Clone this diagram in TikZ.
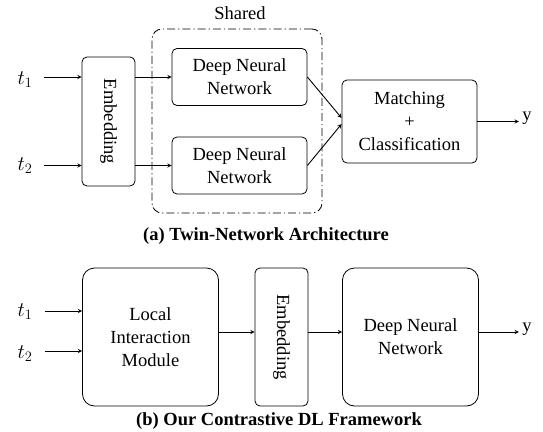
\documentclass[tikz,border=0pt]{standalone}
\usepackage{fontspec}
\setmainfont{Liberation Serif}
\begin{document}
\begin{tikzpicture}[x=1pt, y=-1pt, >=stealth, line join=round,
    font=\rmfamily\fontsize{18.5}{23}\selectfont,
    blk/.style={draw, line width=0.8pt, rounded corners=5pt, align=center, inner sep=0pt},
    bigblk/.style={blk, rounded corners=12pt, minimum width=136pt, minimum height=138pt},
    captext/.style={font=\rmfamily\bfseries\fontsize{18.5}{23}\selectfont},
    tlbl/.style={font=\fontsize{21}{23}\selectfont},
    arr/.style={->, line width=0.9pt}]
    \useasboundingbox (0,0) rectangle (543,431);
    \node[tlbl] (ta1) at (25,80) {$t_1$};
    \node[tlbl] (ta2) at (25,166) {$t_2$};
    \node[blk, minimum width=53pt, minimum height=129pt] (emba)
        at (108.5,121.5) {\rotatebox{-90}{Embedding}};
    \node[blk, rounded corners=10pt, minimum width=170pt, minimum height=184pt,
        dash pattern=on 8pt off 3pt on 1.2pt off 3pt] (shared) at (237,121) {};
    \node (sharedlbl) at (240,13) {Shared};
    \node[blk, minimum width=135pt, minimum height=57pt] (dnn1) at (239.5,77) {Deep Neural\\Network};
    \node[blk, minimum width=135pt, minimum height=57pt] (dnn2) at (239.5,165.5) {Deep Neural\\Network};
    \node[blk, minimum width=135pt, minimum height=83pt] (match) at (409.5,121.5) {Matching\\+\\Classification};
    \node (ya) at (527,118) {y};
    \coordinate (ia1) at (44,77);
    \coordinate (ia2) at (44,165.5);
    \draw[arr] (ia1) -- (ia1 -| emba.west);
    \draw[arr] (ia2) -- (ia2 -| emba.west);
    \draw[arr] (emba.east |- dnn1) -- (dnn1.west);
    \draw[arr] (emba.east |- dnn2) -- (dnn2.west);
    \draw[arr] (dnn1.east) -- ([yshift=3.5pt]match.west);
    \draw[arr] (dnn2.east) -- ([yshift=-2.5pt]match.west);
    \draw[arr] (match.east) -- (match.east -| ya.west);
    \node[captext] (capa) at (266,236) {(a) Twin-Network Architecture};
    \node[tlbl] (tb1) at (25,312) {$t_1$};
    \node[tlbl] (tb2) at (25,354) {$t_2$};
    \node[bigblk] (lim) at (150.5,337) {Local\\Interaction\\Module};
    \node[blk, minimum width=53pt, minimum height=138pt] (embb) at (281.5,337) {\rotatebox{-90}{Embedding}};
    \node[bigblk] (dnnb) at (410.5,337) {Deep Neural\\Network};
    \node (yb) at (527,329) {y};
    \coordinate (ib1) at (45,311);
    \coordinate (ib2) at (45,351);
    \coordinate (mb) at (0,332);
    \draw[arr] (ib1) -- (ib1 -| lim.west);
    \draw[arr] (ib2) -- (ib2 -| lim.west);
    \draw[arr] (lim.east |- mb) -- (embb.west |- mb);
    \draw[arr] (embb.east |- mb) -- (dnnb.west |- mb);
    \draw[arr] (dnnb.east |- mb) -- (yb.west |- mb);
    \node[captext] (capb) at (279,421) {(b) Our Contrastive DL Framework};
\end{tikzpicture}
\end{document}
